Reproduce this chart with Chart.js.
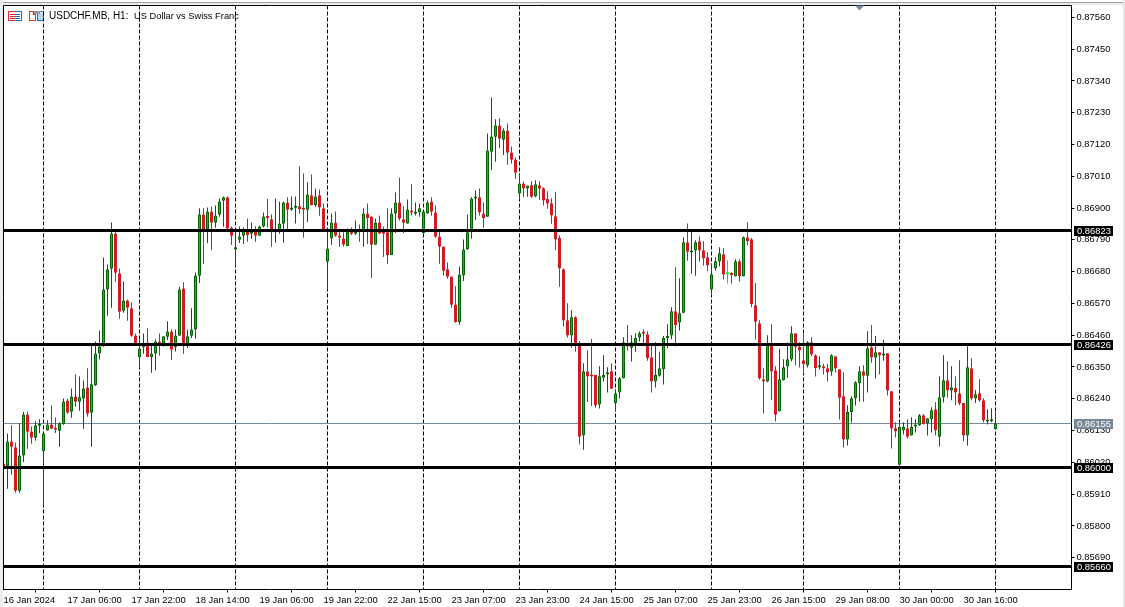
<!DOCTYPE html>
<html><head><meta charset="utf-8">
<style>html,body{margin:0;padding:0;background:#fff}canvas{display:block}</style>
<script src="https://cdn.jsdelivr.net/npm/chart.js@4/dist/chart.umd.min.js"></script>
</head><body><canvas id="c" width="1125" height="607"></canvas>
<script>
const opens=[0.86016,0.86007,0.86092,0.86072,0.85922,0.86044,0.86186,0.86127,0.86105,0.86147,
0.86058,0.86130,0.86151,0.86137,0.86129,0.86152,0.86234,0.86195,0.86248,0.86230,
0.86241,0.86279,0.86192,0.86287,0.86397,0.86421,0.86618,0.86690,0.86812,0.86674,
0.86545,0.86580,0.86553,0.86459,0.86385,0.86418,0.86435,0.86385,0.86397,0.86438,
0.86431,0.86455,0.86473,0.86418,0.86458,0.86622,0.86431,0.86458,0.86480,0.86666,
0.86878,0.86826,0.86888,0.86849,0.86877,0.86925,0.86937,0.86831,0.86757,0.86790,
0.86804,0.86819,0.86811,0.86819,0.86804,0.86836,0.86871,0.86861,0.86819,0.86818,
0.86846,0.86919,0.86894,0.86901,0.86906,0.86895,0.86894,0.86944,0.86911,0.86944,
0.86899,0.86714,0.86795,0.86850,0.86805,0.86795,0.86769,0.86822,0.86811,0.86824,
0.86826,0.86881,0.86871,0.86773,0.86850,0.86819,0.86816,0.86738,0.86881,0.86919,
0.86861,0.86847,0.86892,0.86880,0.86885,0.86814,0.86881,0.86923,0.86885,0.86802,
0.86767,0.86688,0.86663,0.86566,0.86506,0.86667,0.86757,0.86824,0.86933,0.86937,
0.86881,0.86870,0.87095,0.87147,0.87186,0.87136,0.87168,0.87092,0.87068,0.86950,
0.86985,0.86968,0.86979,0.86940,0.86979,0.86969,0.86931,0.86917,0.86872,0.86796,
0.86688,0.86512,0.86459,0.86522,0.86424,0.86113,0.86335,0.86322,0.86322,0.86220,
0.86313,0.86324,0.86335,0.86225,0.86262,0.86311,0.86424,0.86417,0.86432,0.86452,
0.86467,0.86463,0.86384,0.86300,0.86320,0.86342,0.86450,0.86459,0.86543,0.86504,
0.86538,0.86782,0.86746,0.86753,0.86785,0.86754,0.86730,0.86618,0.86691,0.86715,
0.86740,0.86671,0.86674,0.86664,0.86716,0.86664,0.86799,0.86792,0.86564,0.86501,
0.86308,0.86300,0.86429,0.86339,0.86197,0.86304,0.86352,0.86376,0.86467,0.86420,
0.86373,0.86355,0.86436,0.86391,0.86348,0.86353,0.86346,0.86334,0.86387,0.86342,
0.86249,0.86099,0.86194,0.86242,0.86294,0.86335,0.86320,0.86418,0.86383,0.86401,
0.86390,0.86398,0.86266,0.86138,0.86012,0.86130,0.86138,0.86113,0.86144,0.86149,
0.86183,0.86155,0.86169,0.86204,0.86109,0.86245,0.86304,0.86269,0.86277,0.86259,
0.86225,0.86113,0.86346,0.86241,0.86259,0.86235,0.86161,0.86162,0.86135];
const closes=[0.85999,0.86092,0.86074,0.85922,0.86044,0.86186,0.86126,0.86105,0.86148,0.86148,
0.86120,0.86151,0.86136,0.86133,0.86155,0.86231,0.86192,0.86248,0.86230,0.86245,
0.86276,0.86188,0.86290,0.86397,0.86421,0.86618,0.86688,0.86812,0.86676,0.86541,
0.86580,0.86555,0.86458,0.86431,0.86414,0.86428,0.86385,0.86397,0.86438,0.86428,
0.86456,0.86473,0.86410,0.86459,0.86618,0.86431,0.86456,0.86480,0.86667,0.86878,
0.86826,0.86888,0.86849,0.86874,0.86923,0.86937,0.86829,0.86804,0.86764,0.86802,
0.86819,0.86807,0.86819,0.86804,0.86836,0.86871,0.86866,0.86822,0.86826,0.86847,
0.86919,0.86894,0.86902,0.86906,0.86897,0.86894,0.86947,0.86911,0.86940,0.86902,
0.86824,0.86760,0.86850,0.86804,0.86797,0.86773,0.86819,0.86811,0.86819,0.86820,
0.86881,0.86866,0.86773,0.86850,0.86811,0.86811,0.86738,0.86881,0.86919,0.86863,
0.86849,0.86895,0.86884,0.86885,0.86899,0.86888,0.86919,0.86887,0.86801,0.86766,
0.86683,0.86662,0.86565,0.86506,0.86670,0.86757,0.86816,0.86933,0.86937,0.86885,
0.86866,0.87099,0.87148,0.87186,0.87140,0.87168,0.87091,0.87067,0.87022,0.86985,
0.86968,0.86978,0.86939,0.86982,0.86967,0.86926,0.86916,0.86874,0.86791,0.86691,
0.86511,0.86459,0.86522,0.86432,0.86109,0.86335,0.86317,0.86317,0.86217,0.86318,
0.86322,0.86332,0.86275,0.86259,0.86311,0.86436,0.86421,0.86436,0.86450,0.86467,
0.86465,0.86380,0.86300,0.86322,0.86346,0.86450,0.86457,0.86543,0.86495,0.86536,
0.86782,0.86749,0.86751,0.86782,0.86753,0.86726,0.86701,0.86671,0.86716,0.86744,
0.86670,0.86671,0.86668,0.86716,0.86664,0.86799,0.86786,0.86567,0.86507,0.86310,
0.86300,0.86429,0.86334,0.86185,0.86308,0.86349,0.86377,0.86467,0.86418,0.86407,
0.86360,0.86436,0.86393,0.86346,0.86356,0.86345,0.86331,0.86391,0.86345,0.86244,
0.86099,0.86194,0.86242,0.86297,0.86335,0.86320,0.86415,0.86383,0.86401,0.86390,
0.86394,0.86269,0.86137,0.86127,0.86142,0.86142,0.86109,0.86142,0.86149,0.86183,
0.86154,0.86173,0.86200,0.86130,0.86245,0.86304,0.86269,0.86280,0.86262,0.86224,
0.86113,0.86349,0.86241,0.86256,0.86234,0.86165,0.86166,0.86169,0.86155];
const highs=[0.86016,0.86120,0.86148,0.86089,0.86155,0.86194,0.86196,0.86144,0.86162,0.86169,
0.86120,0.86166,0.86217,0.86175,0.86159,0.86241,0.86241,0.86276,0.86324,0.86317,
0.86303,0.86346,0.86428,0.86438,0.86476,0.86729,0.86705,0.86850,0.86816,0.86691,
0.86646,0.86584,0.86573,0.86466,0.86445,0.86466,0.86483,0.86430,0.86445,0.86466,
0.86456,0.86508,0.86480,0.86480,0.86628,0.86643,0.86480,0.86553,0.86677,0.86899,
0.86899,0.86902,0.86905,0.86909,0.86933,0.86940,0.86940,0.86836,0.86822,0.86836,
0.86833,0.86864,0.86850,0.86837,0.86840,0.86885,0.86931,0.86878,0.86933,0.86923,
0.86923,0.86937,0.86940,0.86940,0.87045,0.87020,0.86989,0.87016,0.86968,0.86964,
0.86916,0.86822,0.86881,0.86888,0.86822,0.86816,0.86829,0.86833,0.86857,0.86843,
0.86899,0.86916,0.86871,0.86864,0.86874,0.86836,0.86899,0.86899,0.86954,0.87006,
0.86906,0.86930,0.86982,0.86919,0.86916,0.86888,0.86926,0.86937,0.86909,0.86822,
0.86767,0.86712,0.86663,0.86629,0.86698,0.86791,0.86878,0.86937,0.86961,0.86968,
0.86919,0.87158,0.87283,0.87207,0.87210,0.87175,0.87193,0.87113,0.87075,0.87020,
0.86992,0.86978,0.86993,0.86996,0.86993,0.86972,0.86958,0.86934,0.86955,0.86806,
0.86692,0.86571,0.86546,0.86526,0.86439,0.86363,0.86408,0.86447,0.86322,0.86353,
0.86391,0.86349,0.86363,0.86273,0.86315,0.86453,0.86495,0.86460,0.86467,0.86474,
0.86481,0.86474,0.86432,0.86436,0.86403,0.86457,0.86498,0.86557,0.86695,0.86657,
0.86799,0.86847,0.86820,0.86789,0.86802,0.86785,0.86747,0.86709,0.86730,0.86764,
0.86761,0.86719,0.86678,0.86723,0.86723,0.86802,0.86851,0.86796,0.86640,0.86512,
0.86346,0.86460,0.86498,0.86353,0.86412,0.86377,0.86436,0.86491,0.86467,0.86436,
0.86467,0.86439,0.86453,0.86394,0.86387,0.86360,0.86360,0.86394,0.86387,0.86342,
0.86332,0.86218,0.86249,0.86301,0.86353,0.86356,0.86474,0.86495,0.86457,0.86401,
0.86443,0.86398,0.86266,0.86159,0.86162,0.86159,0.86169,0.86176,0.86169,0.86187,
0.86187,0.86173,0.86211,0.86228,0.86318,0.86391,0.86370,0.86353,0.86318,0.86373,
0.86225,0.86422,0.86380,0.86270,0.86308,0.86242,0.86204,0.86207,0.86194];
const lows=[0.85993,0.85929,0.85977,0.85915,0.85915,0.86021,0.86067,0.86084,0.86095,0.86122,
0.85871,0.86129,0.86136,0.86122,0.86074,0.86150,0.86188,0.86174,0.86212,0.86199,
0.86136,0.86178,0.86074,0.86284,0.86376,0.86420,0.86527,0.86555,0.86645,0.86517,
0.86538,0.86510,0.86455,0.86428,0.86347,0.86396,0.86385,0.86330,0.86339,0.86389,
0.86420,0.86443,0.86374,0.86404,0.86458,0.86396,0.86416,0.86450,0.86448,0.86641,
0.86706,0.86779,0.86754,0.86832,0.86870,0.86835,0.86826,0.86772,0.86699,0.86779,
0.86776,0.86783,0.86794,0.86783,0.86804,0.86833,0.86833,0.86766,0.86780,0.86811,
0.86780,0.86826,0.86891,0.86847,0.86880,0.86797,0.86852,0.86909,0.86904,0.86873,
0.86822,0.86618,0.86773,0.86801,0.86766,0.86766,0.86769,0.86807,0.86807,0.86783,
0.86766,0.86776,0.86658,0.86773,0.86811,0.86731,0.86707,0.86738,0.86814,0.86857,
0.86814,0.86846,0.86874,0.86874,0.86870,0.86812,0.86880,0.86873,0.86797,0.86707,
0.86667,0.86655,0.86555,0.86503,0.86496,0.86648,0.86756,0.86794,0.86859,0.86874,
0.86832,0.86869,0.87032,0.87060,0.87108,0.87084,0.87050,0.87053,0.87001,0.86929,
0.86937,0.86939,0.86935,0.86937,0.86928,0.86909,0.86898,0.86846,0.86755,0.86628,
0.86490,0.86452,0.86417,0.86403,0.86082,0.86064,0.86229,0.86215,0.86209,0.86206,
0.86300,0.86262,0.86275,0.86196,0.86241,0.86310,0.86407,0.86369,0.86403,0.86438,
0.86432,0.86372,0.86262,0.86279,0.86317,0.86289,0.86415,0.86446,0.86421,0.86476,
0.86536,0.86718,0.86673,0.86666,0.86715,0.86701,0.86681,0.86597,0.86684,0.86698,
0.86653,0.86639,0.86639,0.86663,0.86646,0.86663,0.86771,0.86557,0.86445,0.86307,
0.86189,0.86297,0.86236,0.86161,0.86196,0.86303,0.86313,0.86369,0.86355,0.86348,
0.86327,0.86348,0.86387,0.86317,0.86341,0.86324,0.86300,0.86320,0.86331,0.86168,
0.86071,0.86078,0.86158,0.86217,0.86230,0.86230,0.86262,0.86365,0.86310,0.86324,
0.86372,0.86251,0.86068,0.86106,0.86012,0.86116,0.86102,0.86113,0.86123,0.86147,
0.86151,0.86113,0.86123,0.86113,0.86075,0.86227,0.86244,0.86235,0.86218,0.86218,
0.86093,0.86078,0.86235,0.86225,0.86230,0.86158,0.86151,0.86159,0.86134];

const tickLabels=["16 Jan 2024","17 Jan 06:00","17 Jan 22:00","18 Jan 14:00","19 Jan 06:00","19 Jan 22:00","22 Jan 15:00","23 Jan 07:00","23 Jan 23:00","24 Jan 15:00","25 Jan 07:00","25 Jan 23:00","26 Jan 15:00","29 Jan 08:00","30 Jan 00:00","30 Jan 16:00"];
const tickEvery=16;
const priceTicks=[0.85690,0.85800,0.85910,0.86020,0.86130,0.86240,0.86350,0.86460,0.86570,0.86680,0.86790,0.86900,0.87010,0.87120,0.87230,0.87340,0.87450,0.87560];
const levels=[0.86823,0.86426,0.86000,0.85660];
const lastPrice=0.86155;
const separators=[10,34,58,81,105,129,153,177,200,224,248];
const shiftMarker=214;
const emptySlots=19;
const titleSymbol="USDCHF.MB, H1:";
const titleName="US Dollar vs Swiss Franc";

const UP='#00cc00',UPLINE='#006400',DOWN='#d01c1f',DOJI='#00f000',SLATE='#778899';
const FONT='"Liberation Sans", Arial, sans-serif';
const slots=opens.length+emptySlots;
const labels=Array.from({length:slots},(_,i)=>i%tickEvery===0&&tickLabels[i/tickEvery]||'');
const up=i=>closes[i]>opens[i], flat=i=>closes[i]===opens[i];
const snap=y=>Math.round(y-0.7)+0.5;

const decor={id:'decor',
 beforeDraw(ch){const c=ch.ctx;c.save();
  c.fillStyle='#fff';c.fillRect(0,0,1125,607);
  c.fillStyle='#a0a0a0';c.fillRect(0,2,1125,1);
  c.fillStyle='#ececec';c.fillRect(0,3,1123,2);c.fillRect(0,0,3,607);
  c.fillStyle='#e4e4e4';c.fillRect(1123,0,2,607);
  c.restore();},
 beforeDatasetsDraw(ch){const c=ch.ctx,a=ch.chartArea,x=ch.scales.x,y=ch.scales.y;c.save();
  c.fillStyle='#000';c.textBaseline='middle';c.textAlign='left';
  c.font='10px '+FONT;c.fillText(titleSymbol,49,16.5);
  c.font='9.3px '+FONT;c.fillText(titleName,134,16.5);
  // icons
  const R='#e8282c',B='#1a70c0';
  c.fillStyle=R;
  c.fillRect(8,11,7,1);c.fillRect(8,20,7,1);c.fillRect(8,11,1,10);c.fillRect(10,14,5,1);c.fillRect(10,16,5,1);c.fillRect(10,18,5,1);
  c.fillStyle=B;
  c.fillRect(15,11,7,1);c.fillRect(15,20,7,1);c.fillRect(21,11,1,10);c.fillRect(15,14,5,1);c.fillRect(15,16,5,1);c.fillRect(15,18,5,1);
  c.fillStyle=R;
  c.fillRect(29,11,5,1);c.fillRect(29,11,1,10);c.fillRect(29,20,7,1);c.fillRect(35,14,1,7);c.fillRect(33,11,1,4);c.fillRect(33,14,3,1);
  c.fillStyle='#b4d8f4';c.fillRect(37,13,7,8);
  c.fillStyle=B;c.fillRect(37,13,1,8);c.fillRect(37,20,7,1);c.fillRect(43,11,1,10);c.fillRect(40,11,4,1);
  c.fillStyle='#9a9a9a';c.fillRect(34,11,6,3);
  // separators
  c.strokeStyle='#000';c.lineWidth=1;c.setLineDash([4,2]);
  separators.forEach(i=>{const p=x.getPixelForValue(i);c.beginPath();c.moveTo(p,a.top);c.lineTo(p,a.bottom);c.stroke();});
  c.setLineDash([]);
  // current price line
  c.strokeStyle=SLATE;const py=snap(y.getPixelForValue(lastPrice));c.beginPath();c.moveTo(a.left,py);c.lineTo(a.right,py);c.stroke();
  c.restore();},
 afterDatasetsDraw(ch){const c=ch.ctx,a=ch.chartArea,x=ch.scales.x,y=ch.scales.y;c.save();
  c.strokeStyle='#000';c.lineWidth=3;
  levels.forEach(v=>{const p=snap(y.getPixelForValue(v));c.beginPath();c.moveTo(a.left,p);c.lineTo(a.right,p);c.stroke();});
  c.lineWidth=1;c.beginPath();c.moveTo(a.left,a.bottom);c.lineTo(a.left,a.top);c.lineTo(a.right,a.top);c.stroke();
  const m=x.getPixelForValue(shiftMarker);
  c.fillStyle=SLATE;c.beginPath();c.moveTo(m-4.5,a.top);c.lineTo(m+4.5,a.top);c.lineTo(m,a.top+5);c.closePath();c.fill();
  c.restore();},
 afterDraw(ch){const c=ch.ctx,y=ch.scales.y;c.save();
  c.font='9.4px '+FONT;c.textBaseline='middle';c.textAlign='left';
  const box=(v,col)=>{const p=snap(y.getPixelForValue(v));c.fillStyle=col;c.fillRect(1074,p-4.5,39,10);c.fillStyle='#fff';c.fillText(v.toFixed(5),1077,p+0.5);};
  box(lastPrice,SLATE);levels.forEach(v=>box(v,'#000'));
  c.restore();}
};

new Chart(document.getElementById('c'),{
 type:'bar',
 data:{labels,datasets:[
  {label:'Body',order:1,grouped:false,barThickness:3,minBarLength:2,inflateAmount:0,borderSkipped:false,borderWidth:1,
   data:opens.map((o,i)=>[o,closes[i]]),
   backgroundColor:opens.map((_,i)=>flat(i)?DOJI:up(i)?UP:DOWN),
   borderColor:opens.map((_,i)=>flat(i)?DOJI:up(i)?UPLINE:DOWN)},
  {label:'Range',order:2,grouped:false,barThickness:1,inflateAmount:0,borderSkipped:false,borderWidth:0,
   data:lows.map((l,i)=>[l,highs[i]]),
   backgroundColor:opens.map((_,i)=>flat(i)?DOJI:up(i)?UPLINE:DOWN)}
 ]},
 options:{responsive:false,animation:false,devicePixelRatio:1,
  layout:{padding:{left:3.5,top:5.5,right:0,bottom:0}},
  plugins:{legend:{display:false},tooltip:{enabled:false},title:{display:false}},
  scales:{
   x:{type:'category',offset:false,
    grid:{display:true,drawOnChartArea:false,drawTicks:true,tickLength:3,color:'#000'},
    border:{display:true,color:'#000'},
    afterBuildTicks(s){s.ticks=s.ticks.filter(t=>labels[t.value]);},
    afterFit(s){s.height=17.5;s.paddingLeft=0;s.paddingRight=0;},
    ticks:{autoSkip:false,maxRotation:0,align:'start',padding:2,color:'#000',font:{family:FONT,size:9.4},
     callback(v){return labels[v];}}},
   y:{type:'linear',position:'right',min:0.85580,max:0.87601,
    grid:{display:true,drawOnChartArea:false,drawTicks:true,tickLength:3,color:'#000'},
    border:{display:true,color:'#000'},
    afterBuildTicks(s){s.ticks=priceTicks.map(value=>({value}));},
    afterFit(s){s.width=53.5;s.paddingTop=0;s.paddingBottom=0;},
    ticks:{padding:2,color:'#000',font:{family:FONT,size:9.4},callback(v){return v.toFixed(5);}}}
  }},
 plugins:[decor]
});
</script></body></html>
